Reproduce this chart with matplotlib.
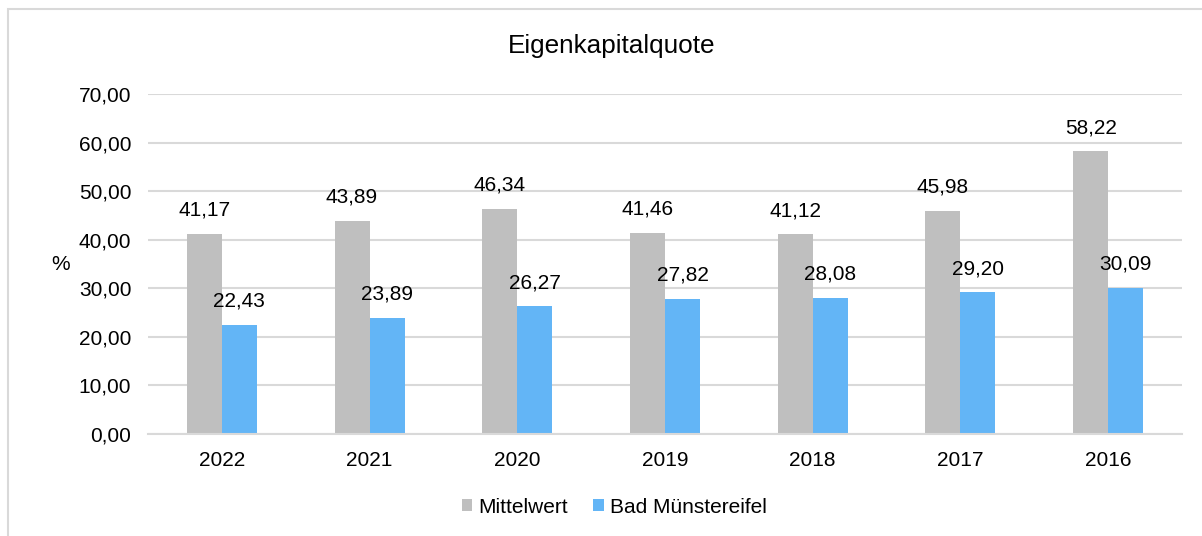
import matplotlib.pyplot as plt
from matplotlib.patches import Rectangle
import numpy as np

plt.rcParams['font.family'] = ['Liberation Sans', 'DejaVu Sans']

years = ['2022', '2021', '2020', '2019', '2018', '2017', '2016']
mittelwert = [41.17, 43.89, 46.34, 41.46, 41.12, 45.98, 58.22]
bad_muenstereifel = [22.43, 23.89, 26.27, 27.82, 28.08, 29.20, 30.09]

gray = '#BFBFBF'
blue = '#63B5F6'
grid_col = '#D9D9D9'

fig = plt.figure(figsize=(12.02, 5.36), dpi=100)
ax = fig.add_axes([0.1231, 0.1903, 0.8603, 0.6343])

# Rahmen um das Diagramm (nur oben und links sichtbar)
fig.patches.append(Rectangle((8 / 1202, -0.1), 1.2, 1 - 9 / 536 + 0.1,
                             transform=fig.transFigure, fill=False,
                             edgecolor=grid_col, linewidth=1.5))

x = np.arange(len(years))
w = 0.237
b1 = ax.bar(x - w / 2, mittelwert, w, color=gray, label='Mittelwert', zorder=2)
b2 = ax.bar(x + w / 2, bad_muenstereifel, w, color=blue, label='Bad Münstereifel', zorder=2)

for bars in (b1, b2):
    for rect in bars:
        h = rect.get_height()
        ax.annotate(f'{h:.2f}'.replace('.', ','),
                    (rect.get_x() + rect.get_width() / 2, h),
                    xytext=(0, 17), textcoords='offset points',
                    ha='center', va='center', fontsize=15)

ax.set_xlim(-0.5, len(years) - 0.5)
ax.set_ylim(0, 70)
ax.set_yticks(range(0, 71, 10))
ax.set_yticklabels([f'{v},00' for v in range(0, 71, 10)], fontsize=15)
ax.set_xticks(x)
ax.set_xticklabels(years, fontsize=15)
ax.tick_params(length=0, pad=12)
ax.tick_params(axis='x', pad=12)

ax.grid(axis='y', color=grid_col, linewidth=1.5, zorder=0)
for s in ['top', 'right', 'left']:
    ax.spines[s].set_visible(False)
ax.spines['bottom'].set_color(grid_col)
ax.spines['bottom'].set_linewidth(1.5)

ax.set_ylabel('%', rotation=0, fontsize=15, labelpad=0, va='center', ha='center')
ax.yaxis.set_label_coords(-0.085, 0.5)

fig.text(0.509, 0.914, 'Eigenkapitalquote', ha='center', va='center', fontsize=18.8)

fig.legend(handles=[b1, b2], loc='center', bbox_to_anchor=(0.511, 0.054),
           ncol=2, frameon=False, fontsize=15, handlelength=0.5,
           handleheight=0.5, handletextpad=0.3, columnspacing=1.2)

fig.savefig('out.png', dpi=100)
